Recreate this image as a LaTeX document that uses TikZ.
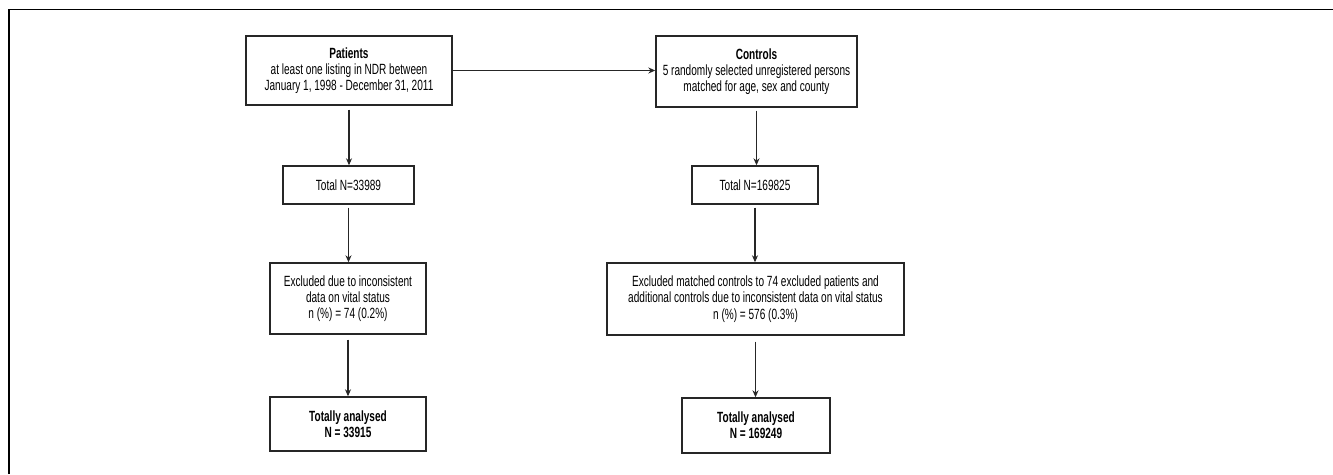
\documentclass[tikz,border=0pt]{standalone}
\usepackage{fontspec}
\setmainfont{Liberation Sans}[FakeStretch=0.68]
\usetikzlibrary{arrows.meta}
\begin{document}
\begin{tikzpicture}[x=1pt,y=-1pt,
  box/.style={draw=black!85, line width=1.4pt, inner sep=0pt, align=center,
    font=\fontsize{14.8}{16.3}\selectfont},
  arr/.style={draw=black!85, line width=1.1pt, -{Stealth[length=7pt,width=6pt]}},
  frame/.style={draw=black, line width=1.8pt}]
\useasboundingbox (0,0) rectangle (1333,474);
\coordinate (f1) at (9,474);
\coordinate (f2) at (9,9.5);
\coordinate (f3) at (1333,9.5);
\draw[frame] (f1) -- (f2) -- (f3);

\node[box, minimum width=206pt, minimum height=69pt] (P) at (349,70.5)
  {\textbf{Patients}\\at least one listing in NDR between\\January 1, 1998 - December 31, 2011};
\node[box, minimum width=201pt, minimum height=71pt] (C) at (756.5,71.5)
  {\textbf{Controls}\\5 randomly selected unregistered persons\\matched for age, sex and county};
\node[box, minimum width=131pt, minimum height=38pt] (T1) at (348.5,185) {Total N=33989};
\node[box, minimum width=126pt, minimum height=38pt] (T2) at (755,185) {Total N=169825};
\node[box, minimum width=156pt, minimum height=71pt] (E1) at (348,298.5)
  {Excluded due to inconsistent\\data on vital status\\n (\%) = 74 (0.2\%)};
\node[box, minimum width=297pt, minimum height=72pt] (E2) at (755.5,299)
  {Excluded matched controls to 74 excluded patients and\\additional controls due to inconsistent data on vital status\\n (\%) = 576 (0.3\%)};
\node[box, minimum width=156pt, minimum height=54pt] (A1) at (348,424)
  {\textbf{Totally analysed}\\\textbf{N = 33915}};
\node[box, minimum width=148pt, minimum height=55pt] (A2) at (756,425.5)
  {\textbf{Totally analysed}\\\textbf{N = 169249}};

\draw[arr] (P.east) -- (C.west |- P.east);
\draw[arr, shorten <=4pt] (P.south) -- (P.south |- T1.north);
\draw[arr, shorten <=3pt] (T1.south) -- (T1.south |- E1.north);
\draw[arr, shorten <=5pt] (E1.south) -- (E1.south |- A1.north);
\draw[arr, shorten <=3pt] (C.south) -- (C.south |- T2.north);
\draw[arr, shorten <=3pt] (T2.south) -- (T2.south |- E2.north);
\draw[arr, shorten <=6pt] (E2.south) -- (E2.south |- A2.north);
\end{tikzpicture}
\end{document}
